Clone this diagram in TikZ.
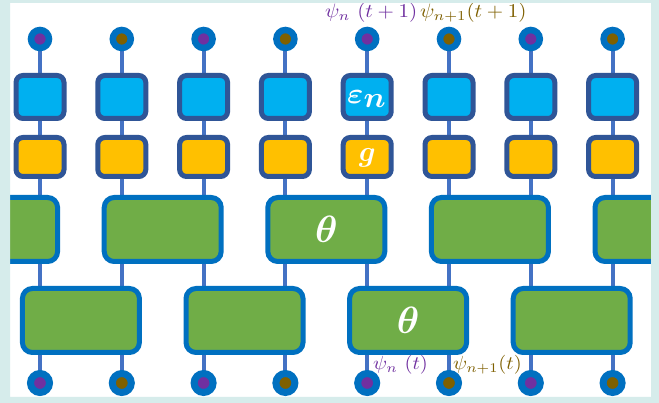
\documentclass[tikz,border=0pt]{standalone}
\usepackage{amsmath,bm,graphicx}
\pgfdeclarelayer{background}
\pgfsetlayers{background,main}
\definecolor{bgteal}{HTML}{D6ECEB}
\definecolor{circblue}{HTML}{0070C0}
\definecolor{connblue}{HTML}{4472C4}
\definecolor{darkblue}{HTML}{2F5597}
\definecolor{boxblue}{HTML}{00B0F0}
\definecolor{boxyellow}{HTML}{FFC000}
\definecolor{boxgreen}{HTML}{70AD47}
\definecolor{dotP}{HTML}{7030A0}
\definecolor{dotB}{HTML}{7F6000}
\begin{document}
\begin{tikzpicture}[x=1pt,y=-1pt,
  topdot/.style={circle, draw=circblue, line width=6.5pt, minimum size=18pt, inner sep=0pt},
  botdot/.style={circle, draw=circblue, line width=7pt, minimum size=19pt, inner sep=0pt},
  ebox/.style={draw=darkblue, fill=boxblue, line width=5pt, rounded corners=7pt, minimum width=48pt, minimum height=43pt, inner sep=0pt},
  ybox/.style={draw=darkblue, fill=boxyellow, line width=5pt, rounded corners=7pt, minimum width=48pt, minimum height=39pt, inner sep=0pt},
  gbox/.style={draw=circblue, fill=boxgreen, line width=5pt, rounded corners=10pt, minimum width=117pt, minimum height=64pt, inner sep=0pt},
  conn/.style={draw=connblue, line width=4pt},
  lab/.style={inner sep=0pt, anchor=base west},
  wt/.style={inner sep=0pt, text=white, font=\boldmath}
]
\useasboundingbox (0,0) rectangle (659,403);
\begin{pgfonlayer}{background}
\fill[white] (0,0) rectangle (659,403);
\end{pgfonlayer}
% green blocks, top row
\foreach \k/\x in {1/-0.9, 2/162.7, 3/326.3, 4/489.9, 5/653.5}{
  \node[gbox] (T\k) at (\x,229.5) {};
}
% green blocks, bottom row
\foreach \k/\x in {1/80.9, 2/244.5, 3/408.1, 4/571.7}{
  \node[gbox] (B\k) at (\x,320.5) {};
}
% columns
\foreach \i/\c/\tk/\bk in {1/dotP/1/1, 2/dotB/2/1, 3/dotP/2/2, 4/dotB/3/2, 5/dotP/3/3, 6/dotB/4/3, 7/dotP/4/4, 8/dotB/5/4}{
  \pgfmathsetmacro\x{40+81.8*(\i-1)}
  \node[topdot, fill=\c] (t\i) at (\x,39) {};
  \node[ebox] (e\i) at (\x,97) {};
  \node[ybox] (y\i) at (\x,157) {};
  \node[botdot, fill=\c] (b\i) at (\x,383) {};
  \begin{pgfonlayer}{background}
  \draw[conn] (t\i.center) -- (e\i.center) -- (y\i.center) -- (y\i |- T\tk.center) -- (y\i |- B\bk.center) -- (b\i.center);
  \end{pgfonlayer}
}
% texts inside blocks
\node[wt] (epsl) at ([yshift=-2pt]e5.center) {\scalebox{3.1}[2.9]{$\varepsilon_{\textstyle n}$}};
\node[wt] (gl) at ([yshift=-1pt]y5.center) {\scalebox{2.9}{$g$}};
\node[wt] (th1) at (T3) {\scalebox{3.8}{$\theta$}};
\node[wt] (th2) at (B3) {\scalebox{3.8}{$\theta$}};
% labels
\node[lab, text=dotP] (l1) at (325,18) {\scalebox{2.1}[1.95]{$\psi_n\ (t+1)$}};
\node[lab, text=dotB] (l2) at (420,18) {\scalebox{2.1}[1.95]{$\psi_{n+1}(t+1)$}};
\node[lab, text=dotP] (l3) at (373,370) {\scalebox{2.05}[1.9]{$\psi_n\ (t)$}};
\node[lab, text=dotB] (l4) at (453,370) {\scalebox{2.05}[1.9]{$\psi_{n+1}(t)$}};
% frame
\fill[bgteal, even odd rule] (0,0) rectangle (659,403) (10,3) rectangle (651,397);
\end{tikzpicture}
\end{document}
